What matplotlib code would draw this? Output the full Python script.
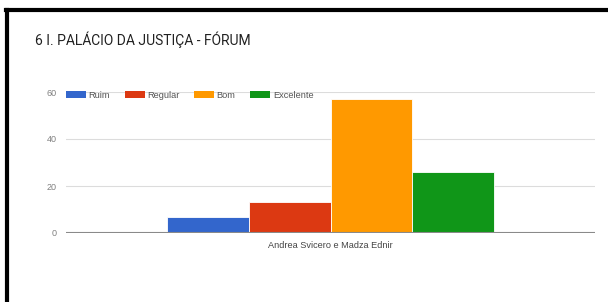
import matplotlib
matplotlib.use("Agg")
import matplotlib.pyplot as plt
from matplotlib.patches import Patch
from matplotlib.lines import Line2D

title = "6 I. PALÁCIO DA JUSTIÇA - FÓRUM"
category = "Andrea Svicero e Madza Ednir"
series = ["Ruim", "Regular", "Bom", "Excelente"]
values = [7, 13, 57, 26]
colors = ["#3366cc", "#dc3912", "#ff9900", "#109618"]
yticks = [0, 20, 40, 60]

W, H = 608, 302
fig = plt.figure(figsize=(W / 100, H / 100), dpi=100)
fig.patch.set_facecolor("white")

ax = fig.add_axes([66 / W, 1 - 233 / H, (595 - 66) / W, (233 - 92) / H])
bw = 327 / 529 / 4
for i, (s, v, c) in enumerate(zip(series, values, colors)):
    ax.bar((i - 1.5) * bw, v, width=bw, color=c, edgecolor="white", linewidth=0.6, label=s, zorder=3)

ax.set_xlim(-0.5, 0.5)
ax.set_ylim(0, 60)
ax.set_yticks(yticks)
ax.set_yticklabels([str(t) for t in yticks], fontsize=6.5, color="#808080", family="Liberation Sans")
ax.set_xticks([0])
ax.set_xticklabels([category], fontsize=6.6, color="#444444", family="Liberation Sans")
ax.tick_params(length=0, pad=5.5)
ax.tick_params(axis="y", pad=6.5)
for sp in ax.spines.values():
    sp.set_visible(False)
ax.grid(axis="y", color="#dcdcdc", linewidth=0.8, zorder=0)
ax.axhline(0, color="#8a8a8a", linewidth=1.5, zorder=4)

handles = [Patch(facecolor=c, edgecolor="none") for c in colors]
leg = ax.legend(handles, series, loc="center left", bbox_to_anchor=(0.0, 1 - 3 / 141), ncol=4,
                frameon=False, prop={"family": "Liberation Sans", "size": 6.7},
                handlelength=2.15, handleheight=0.75, handletextpad=0.25, columnspacing=1.6,
                borderaxespad=0, borderpad=0)
for t in leg.get_texts():
    t.set_color("#555555")

fig.text(35 / W, 1 - 40 / H, title, fontsize=10, family="Roboto", color="#212121",
         ha="left", va="center")

# black frame (screenshot border)
fig.add_artist(Line2D([7 / W, 7 / W], [0, 1 - 10 / H], color="black", linewidth=3, transform=fig.transFigure))
fig.add_artist(Line2D([5.5 / W, 1], [1 - 10 / H, 1 - 10 / H], color="black", linewidth=3, transform=fig.transFigure))

fig.savefig("out.png", dpi=100, facecolor="white")
